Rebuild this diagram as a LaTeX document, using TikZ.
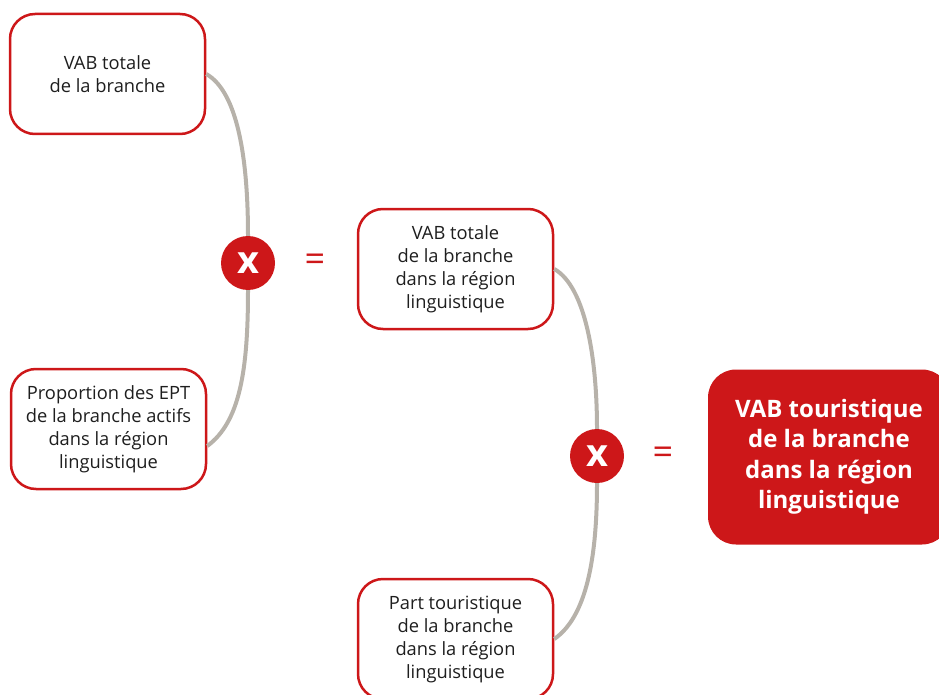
\documentclass[tikz,border=0pt]{standalone}
\usepackage{fontspec}
\setmainfont{Open Sans}
\definecolor{swissred}{HTML}{CD1719}
\definecolor{linkgray}{HTML}{B7B2AA}
\definecolor{txtgray}{HTML}{1E1E1E}
\begin{document}
\begin{tikzpicture}[x=1pt,y=-1pt,
    box/.style={draw=swissred, line width=2.5pt, fill=white, rounded corners=25pt,
      minimum width=195pt, minimum height=120pt, align=center, text=txtgray,
      font=\fontsize{18.3}{23}\selectfont},
    result/.style={fill=swissred, rounded corners=28pt, minimum width=242pt,
      minimum height=175pt, align=center, text=white,
      font=\fontsize{24}{30.5}\selectfont\bfseries},
    times/.style={circle, fill=swissred, minimum size=54pt, inner sep=0pt,
      text=white, font=\fontsize{38}{38}\selectfont\bfseries},
    equals/.style={text=swissred, font=\fontsize{36}{36}\selectfont},
    link/.style={draw=linkgray, line width=4pt}]
    \useasboundingbox (0,0) rectangle (939,695);
    % Facteurs
    \node[box] (vabtot) at (107.5,74) {VAB totale\\de la branche};
    \node[box] (prop) at (108.5,429) {Proportion des EPT\\de la branche actifs\\dans la région\\linguistique};
    \node[box] (vabreg) at (455.5,269) {VAB totale\\de la branche\\dans la région\\linguistique};
    \node[box] (part) at (455.5,639) {Part touristique\\de la branche\\dans la région\\linguistique};
    % Operateurs
    \node[times] (mult1) at (248,263) {x};
    \node[times] (mult2) at (597,456) {x};
    \node[equals] (eq1) at (315,263) {=};
    \node[equals] (eq2) at (663,456) {=};
    % Resultat
    \node[result] (vabtour) at (829,457) {VAB touristique\\de la branche\\dans la région\\linguistique};
    % Liens
    \draw[link] (vabtot.east) .. controls (238,92) and (248,160) .. (mult1.north);
    \draw[link] (mult1.south) .. controls (248,370) and (240,422) .. ([yshift=-17pt]prop.east);
    \draw[link] (vabreg.east) .. controls (586,287) and (597,360) .. (mult2.north);
    \draw[link] (mult2.south) .. controls (597,560) and (586,617) .. (part.east);
\end{tikzpicture}
\end{document}
